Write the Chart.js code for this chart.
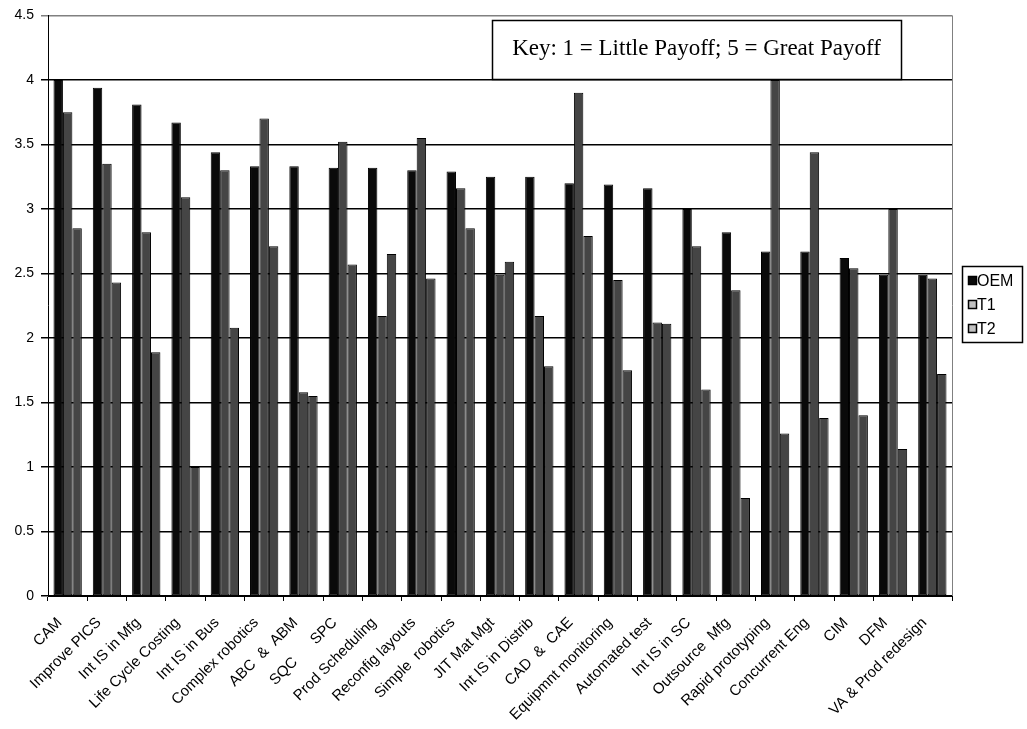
<!DOCTYPE html>
<html><head><meta charset="utf-8">
<script src="https://cdn.jsdelivr.net/npm/chart.js@4/dist/chart.umd.min.js"></script>
<style>html,body{margin:0;padding:0;background:#fff}#wrap{width:1027px;height:729px;position:relative}</style>
</head><body><div id="wrap"><canvas id="c" width="1027" height="729"></canvas></div>
<script>
const categories = ['CAM','Improve PICS','Int IS in Mfg','Life Cycle Costing','Int IS in Bus','Complex robotics','ABC  &  ABM','SQC      SPC','Prod Scheduling','Reconfig layouts','Simple  robotics','JIT Mat Mgt','Int IS in Distrib','CAD  &  CAE','Equipmnt monitoring','Automated test','Int IS in SC','Outsource  Mfg','Rapid prototyping','Concurrent Eng','CIM','DFM','VA & Prod redesign'];
const oem = [4.00,3.94,3.81,3.67,3.44,3.33,3.33,3.32,3.32,3.30,3.29,3.25,3.25,3.20,3.19,3.16,3.00,2.82,2.67,2.67,2.62,2.49,2.49];
const t1  = [3.75,3.35,2.82,3.09,3.30,3.70,1.58,3.52,2.17,3.55,3.16,2.49,2.17,3.90,2.45,2.12,2.71,2.37,4.00,3.44,2.54,3.00,2.46];
const t2  = [2.85,2.43,1.89,1.00,2.08,2.71,1.55,2.57,2.65,2.46,2.85,2.59,1.78,2.79,1.75,2.11,1.60,0.76,1.26,1.38,1.40,1.14,1.72];
const seriesNames = ['OEM','T1','T2'];
const yMin = 0, yMax = 4.5, yStep = 0.5;
const keyText = 'Key: 1 = Little Payoff; 5 = Great Payoff';

const barFill = ['#0a0a0a','#454545','#454545'];
const legendFill = ['#0a0a0a','#c0c0c0','#c0c0c0'];

const extras = {
  id: 'extras',
  afterDraw(chart) {
    const ctx = chart.ctx, a = chart.chartArea;
    ctx.save();
    // right plot border
    ctx.strokeStyle = '#808080'; ctx.lineWidth = 1;
    ctx.beginPath(); ctx.moveTo(a.right + 0.5, a.top); ctx.lineTo(a.right + 0.5, a.bottom); ctx.stroke();
    // key box
    const bx = 492, by = 20, bw = 409, bh = 59;
    ctx.fillStyle = '#fff'; ctx.fillRect(bx, by, bw, bh);
    ctx.strokeStyle = '#000'; ctx.lineWidth = 1.5;
    ctx.strokeRect(bx + 0.5, by + 0.5, bw, bh);
    ctx.fillStyle = '#000';
    ctx.font = '23px "Liberation Serif", "Times New Roman", serif';
    ctx.textAlign = 'center'; ctx.textBaseline = 'middle';
    ctx.fillText(keyText, bx + bw / 2, by + bh / 2 - 1);
    // legend
    const lx = 962, ly = 266, lw = 60, lh = 76;
    ctx.fillStyle = '#fff'; ctx.fillRect(lx, ly, lw, lh);
    ctx.strokeStyle = '#000'; ctx.lineWidth = 1.5;
    ctx.strokeRect(lx + 0.5, ly + 0.5, lw, lh);
    ctx.font = '16px "Liberation Sans", Arial, sans-serif';
    ctx.textAlign = 'left'; ctx.textBaseline = 'middle';
    chart.data.datasets.forEach((ds, i) => {
      const cy = ly + 15 + i * 24;
      ctx.fillStyle = legendFill[i];
      ctx.fillRect(lx + 6, cy - 5, 9, 9);
      ctx.strokeStyle = '#000'; ctx.lineWidth = 1.5;
      ctx.strokeRect(lx + 6.5, cy - 4.5, 8, 8);
      ctx.fillStyle = '#000';
      ctx.fillText(ds.label, lx + 15, cy + 1);
    });
    ctx.restore();
  }
};

new Chart(document.getElementById('c'), {
  type: 'bar',
  data: {
    labels: categories,
    datasets: [oem, t1, t2].map((d, i) => ({
      label: seriesNames[i], data: d,
      backgroundColor: barFill[i], borderColor: '#000', borderWidth: 1, borderSkipped: false,
      categoryPercentage: 0.72, barPercentage: 1.0
    }))
  },
  options: {
    responsive: false, animation: false, devicePixelRatio: 1,
    layout: { padding: { top: 12, right: 75, left: 0, bottom: 0 } },
    plugins: { legend: { display: false }, tooltip: { enabled: false } },
    scales: {
      x: {
        afterFit(s) { s.height = 133; },
        grid: { drawOnChartArea: false, color: '#000', tickLength: 5, offset: true },
        border: { color: '#000', width: 1 },
        ticks: { autoSkip: false, maxRotation: 45, minRotation: 45, padding: 13, labelOffset: -8, color: '#000',
                 font: { family: '"Liberation Sans", Arial, sans-serif', size: 15 } }
      },
      y: {
        min: yMin, max: yMax,
        afterFit(s) { s.width = 48; },
        grid: { color: c => (c.tick && c.tick.value === yMax) ? '#808080' : '#000', lineWidth: 1.5, tickLength: 7 },
        border: { color: '#000', width: 1 },
        ticks: { stepSize: yStep, padding: 7, color: '#000', callback: v => String(v),
                 font: { family: '"Liberation Sans", Arial, sans-serif', size: 14 } }
      }
    }
  },
  plugins: [extras]
});
</script></body></html>
